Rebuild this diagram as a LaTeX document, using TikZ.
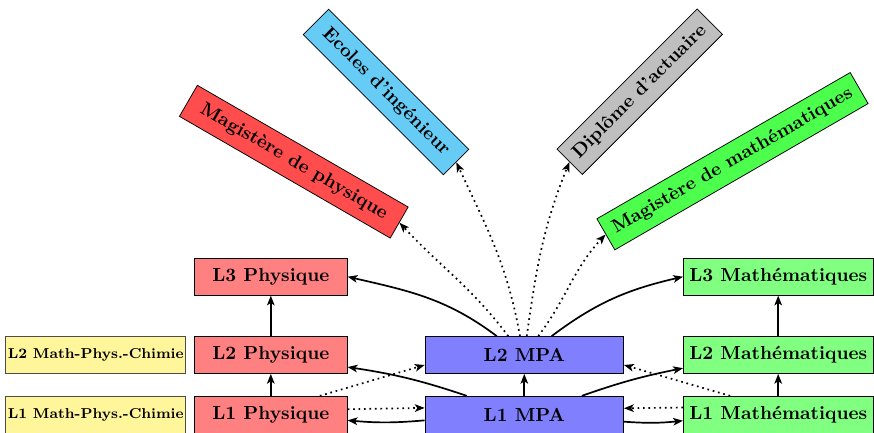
\documentclass[tikz,border=0pt]{standalone}
\usepackage{tikz}
\usetikzlibrary{arrows,arrows.meta}

\definecolor{physcol}{RGB}{255,128,128}
\definecolor{mpacol}{RGB}{128,128,255}
\definecolor{mathcol}{RGB}{128,255,128}
\definecolor{mpccol}{RGB}{255,245,155}
\definecolor{magphycol}{RGB}{255,77,77}
\definecolor{ecolecol}{RGB}{102,204,245}
\definecolor{actucol}{RGB}{191,191,191}
\definecolor{magmathcol}{RGB}{77,255,77}

\tikzset{
  licence/.style={draw,font=\bfseries,minimum height=19.6pt,inner xsep=3pt},
  physbox/.style={licence,fill=physcol,minimum width=81pt},
  mpabox/.style={licence,fill=mpacol,minimum width=105.2pt},
  mathbox/.style={licence,fill=mathcol,minimum width=100.5pt},
  mpcbox/.style={licence,fill=mpccol,draw=black!70,minimum width=95.4pt,inner xsep=1pt,font=\fontsize{7.6pt}{9pt}\selectfont\bfseries},
  debouche/.style={draw,font=\bfseries,minimum height=19pt,inner xsep=2pt},
  plein/.style={-{Stealth[length=5.2pt,width=4pt,inset=1.3pt]},line width=0.9pt},
  pointille/.style={-{Stealth[length=5.2pt,width=4pt,inset=1.3pt]},line width=0.9pt,dotted}
}

\begin{document}
\begin{tikzpicture}[x=0.53pt,y=0.53pt]
\useasboundingbox (0,0) rectangle (874,433);

% licences
\node[physbox] (L3P) at (270.8,156.3) {L3 Physique};
\node[physbox] (L2P) at (270.8,78) {L2 Physique};
\node[physbox] (L1P) at (270.8,18.3) {L1 Physique};
\node[mpcbox] (L2C) at (95.7,78) {L2 Math-Phys.-Chimie};
\node[mpcbox] (L1C) at (95.7,18.3) {L1 Math-Phys.-Chimie};
\node[mpabox] (L2A) at (524.3,78) {L2 MPA};
\node[mpabox] (L1A) at (524.3,18.3) {L1 MPA};
\node[mathbox] (L3M) at (778.2,156.3) {L3 Math\'ematiques};
\node[mathbox] (L2M) at (778.2,78) {L2 Math\'ematiques};
\node[mathbox] (L1M) at (778.2,18.3) {L1 Math\'ematiques};

% debouches
\node[debouche,fill=magphycol,rotate=-30,minimum width=129pt] (MagP) at (293.8,271.3) {Magist\`ere de physique};
\node[debouche,fill=ecolecol,rotate=-45,minimum width=105pt] (Ecol) at (386,341) {Ecoles d'ing\'enieur};
\node[debouche,fill=actucol,rotate=45,minimum width=105pt] (Actu) at (639.7,341.3) {Dipl\^ome d'actuaire};
\node[debouche,fill=magmathcol,rotate=30,minimum width=155pt] (MagM) at (732.5,271.8) {Magist\`ere de math\'ematiques};

% montees
\draw[plein] (L1P) -- (L2P);
\draw[plein] (L2P) -- (L3P);
\draw[plein] (L1A) -- (L2A);
\draw[plein] (L1M) -- (L2M);
\draw[plein] (L2M) -- (L3M);

% depuis L2 MPA
\draw[plein] ([xshift=-14.6pt]L2A.north) to[out=143,in=-13] (L3P.east);
\draw[plein] ([xshift=14.5pt]L2A.north) to[out=37,in=193] (L3M.west);
\draw[pointille] ([xshift=-8.5pt]L2A.north) to[out=127,in=-47] (MagP.east);
\draw[pointille] ([xshift=-2.3pt]L2A.north) to[out=100,in=-65] (Ecol.east);
\draw[pointille] ([xshift=1.3pt]L2A.north) to[out=82,in=248] (Actu.west);
\draw[pointille] ([xshift=7.4pt]L2A.north) to[out=53,in=227] (MagM.west);

% depuis L1 MPA
\draw[plein] ([xshift=-30.5pt]L1A.north) to[bend right=5] ([yshift=-6.4pt]L2P.east);
\draw[plein] ([xshift=30.5pt]L1A.north) to[bend left=4] ([yshift=-7pt]L2M.west);
\draw[plein] ([yshift=-3pt]L1A.west) to[bend left=5] ([yshift=-3pt]L1P.east);
\draw[plein] ([yshift=-3.7pt]L1A.east) to[bend right=5] ([yshift=-3.2pt]L1M.west);

% passerelles
\draw[pointille] ([xshift=26pt]L1P.north) -- ([yshift=-5.3pt]L2A.west);
\draw[pointille] ([xshift=-25.5pt]L1M.north) -- ([yshift=-5.3pt]L2A.east);
\draw[pointille] ([yshift=2.9pt]L1P.east) -- ([yshift=3.6pt]L1A.west);
\draw[pointille] ([yshift=3.8pt]L1M.west) -- ([yshift=3.4pt]L1A.east);
\end{tikzpicture}
\end{document}
